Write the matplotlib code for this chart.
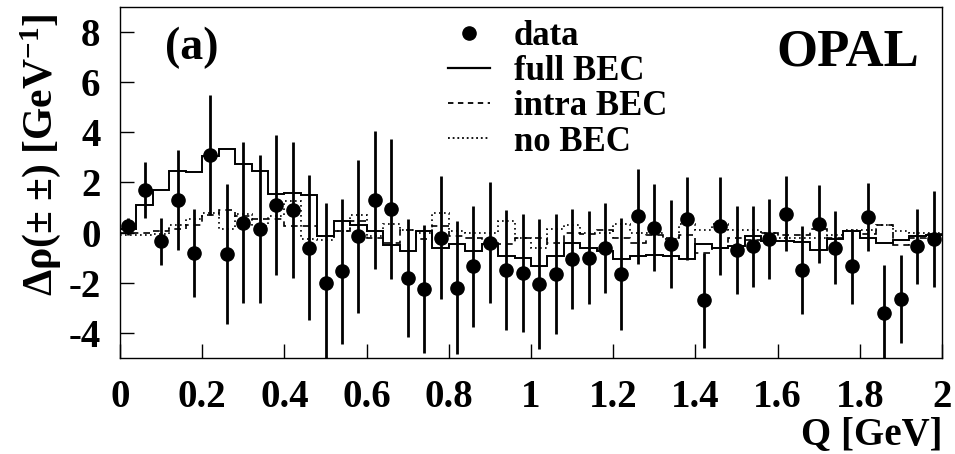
import numpy as np
import matplotlib
matplotlib.use("Agg")
import matplotlib.pyplot as plt
from matplotlib.lines import Line2D

plt.rcParams['font.family'] = ['Liberation Serif', 'DejaVu Serif']
plt.rcParams['font.weight'] = 'bold'
plt.rcParams['mathtext.fontset'] = 'custom'
plt.rcParams['mathtext.rm'] = 'Liberation Serif:bold'
plt.rcParams['mathtext.default'] = 'rm'
plt.rcParams['axes.unicode_minus'] = False

# bin centres in Q [GeV]
q = [0.02, 0.06, 0.10, 0.14, 0.18, 0.22, 0.26, 0.30, 0.34, 0.38,
     0.42, 0.46, 0.50, 0.54, 0.58, 0.62, 0.66, 0.70, 0.74, 0.78,
     0.82, 0.86, 0.90, 0.94, 0.98, 1.02, 1.06, 1.10, 1.14, 1.18,
     1.22, 1.26, 1.30, 1.34, 1.38, 1.42, 1.46, 1.50, 1.54, 1.58,
     1.62, 1.66, 1.70, 1.74, 1.78, 1.82, 1.86, 1.90, 1.94, 1.98]

data = [0.25, 1.7, -0.35, 1.3, -0.8, 3.1, -0.85, 0.4, 0.15, 1.1,
        0.9, -0.6, -2.0, -1.55, -0.15, 1.3, 0.95, -1.8, -2.25, -0.2,
        -2.2, -1.35, -0.4, -1.5, -1.6, -2.05, -1.65, -1.05, -1.0, -0.62,
        -1.65, 0.65, 0.2, -0.45, 0.55, -2.7, 0.25, -0.7, -0.55, -0.25,
        0.75, -1.5, 0.35, -0.6, -1.35, 0.62, -3.2, -2.65, -0.55, -0.25]

err = [0.35, 1.1, 0.95, 2.0, 1.75, 2.4, 2.8, 3.2, 2.95, 2.8,
       2.7, 2.9, 3.2, 2.9, 3.05, 2.75, 2.8, 2.35, 2.55, 2.45,
       2.65, 2.4, 2.4, 2.4, 2.35, 2.6, 2.4, 2.0, 1.85, 1.8,
       2.25, 1.9, 1.75, 1.75, 1.65, 1.9, 1.95, 1.75, 1.6, 1.6,
       1.5, 1.75, 1.55, 1.45, 1.5, 1.35, 1.9, 1.75, 1.5, 1.9]

full_bec = [0.15, 1.1, 1.7, 2.45, 2.4, 3.05, 3.35, 2.75, 2.45, 1.55,
            1.6, 1.5, -0.12, 0.45, 0.3, 0.05, -0.5, -0.75, 0.05, -0.63,
            -0.47, -0.73, -0.46, -0.95, -1.0, -1.35, -0.95, -0.4, -0.6, -0.75,
            -1.05, -0.95, -0.9, -0.95, -1.07, -0.45, -0.6, -0.55, -0.15, -0.35,
            -0.35, -0.37, -0.7, -0.25, 0.08, -0.2, -0.4, -0.28, -0.15, -0.1]

intra_bec = [0.0, 0.0, 0.05, 0.15, 0.3, 0.7, 0.9, 0.65, 0.55, 0.55,
             0.25, 0.25, -0.12, 0.05, 0.45, -0.2, -0.4, 0.1, -0.25, 0.25,
             -0.15, -0.2, -0.4, -0.45, -0.2, -0.2, -0.4, 0.0, -0.05, 0.1,
             -0.2, -0.4, -0.1, -0.2, -0.1, -0.8, -0.6, -0.2, -0.3, 0.0,
             -0.1, -0.1, 0.15, -0.2, 0.05, -0.05, 0.3, -0.5, -0.2, -0.05]

no_bec = [-0.1, -0.1, -0.05, 0.3, 0.55, 0.8, 0.15, 0.75, 0.25, 0.65,
          1.25, -0.25, -0.3, 0.05, 0.7, -0.15, 0.35, 0.1, 0.0, 0.8,
          0.05, 0.0, 0.0, 0.45, -0.2, -0.6, 0.15, 0.3, 0.0, 0.0,
          0.35, 0.0, 0.0, -0.25, 0.35, 0.1, 0.35, 0.1, 0.1, 0.0,
          -0.2, -0.2, -0.2, -0.1, 0.1, 0.1, 0.3, 0.05, 0.0, 0.0]

q = np.array(q)
half = (q[1] - q[0]) / 2
edges = np.append(q - half, q[-1] + half)

fig = plt.figure(figsize=(9.55, 4.54), dpi=100)
ax = fig.add_axes([0.1257, 0.2115, 0.8607, 0.7731])

ax.stairs(full_bec, edges, color='black', lw=1.4, baseline=None)
ax.stairs(intra_bec, edges, color='black', lw=1.2, ls=(0, (4, 3)), baseline=None)
ax.stairs(no_bec, edges, color='black', lw=1.2, ls=(0, (1, 2)), baseline=None)
ax.errorbar(q, data, yerr=err, fmt='o', color='black', ms=9.5, elinewidth=2.0,
            capsize=0)

ax.set_xlim(0, 2)
ax.set_ylim(-5, 9)
ax.set_xticks([0, 0.2, 0.4, 0.6, 0.8, 1, 1.2, 1.4, 1.6, 1.8, 2])
ax.set_xticklabels(['0', '0.2', '0.4', '0.6', '0.8', '1', '1.2', '1.4', '1.6', '1.8', '2'])
ax.set_yticks([-4, -2, 0, 2, 4, 6, 8])
ax.set_yticklabels(['-4', '-2', '0', '2', '4', '6', '8'])
ax.tick_params(direction='in', length=10, width=1, labelsize=28)
ax.tick_params(axis='x', pad=15)
ax.tick_params(axis='y', pad=14)
for lab in ax.get_xticklabels() + ax.get_yticklabels():
    lab.set_fontweight('bold')
for s in ax.spines.values():
    s.set_linewidth(1.0)

ax.set_ylabel('\u0394\u03c1(\u00b1 \u00b1) [GeV$^{-1}$]', fontsize=30,
              fontweight='bold')
ax.yaxis.set_label_coords(-0.07, 0.578)
ax.set_xlabel('Q [GeV]', fontsize=28, fontweight='bold', loc='right', labelpad=0)

ax.text(0.055, 0.945, '(a)', transform=ax.transAxes, fontsize=33,
        fontweight='bold', va='top', ha='left')
ax.text(0.972, 0.94, 'OPAL', transform=ax.transAxes, fontsize=38,
        fontweight='bold', va='top', ha='right')

handles = [Line2D([], [], ls='none', marker='o', color='black', ms=9.5),
           Line2D([], [], color='black', lw=1.6),
           Line2D([], [], color='black', lw=1.3, ls=(0, (3, 2.5))),
           Line2D([], [], color='black', lw=1.3, ls=(0, (1, 1.6)))]
labels = ['data', 'full BEC', 'intra BEC', 'no BEC']
ax.legend(handles, labels, loc='upper left', bbox_to_anchor=(0.399, 0.962),
          frameon=False, handlelength=1.2, labelspacing=0.06,
          handletextpad=0.7, borderpad=0, borderaxespad=0,
          prop={'weight': 'bold', 'size': 25})

fig.savefig('out.png', dpi=100)
